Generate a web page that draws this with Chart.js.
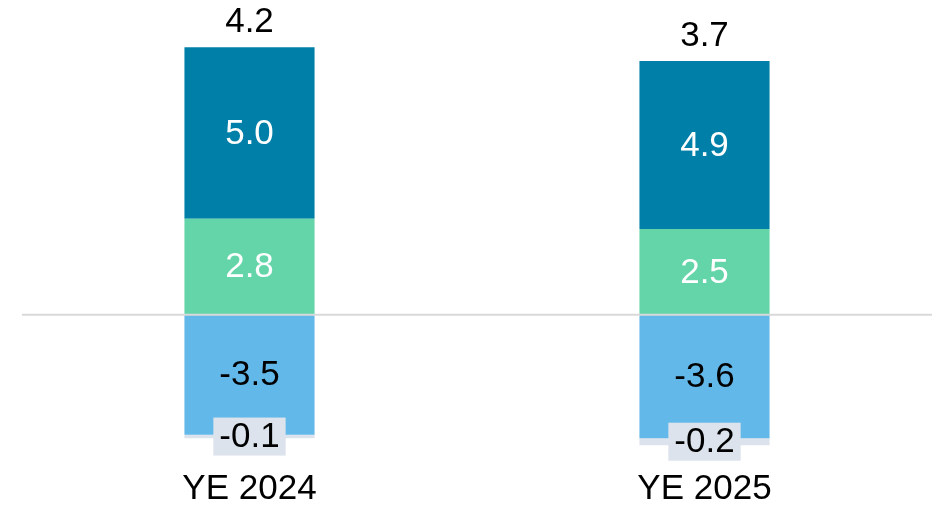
<!DOCTYPE html>
<html><head><meta charset="utf-8">
<script src="https://cdn.jsdelivr.net/npm/chart.js@4/dist/chart.umd.min.js"></script>
<style>html,body{margin:0;padding:0;background:#fff}#wrap{width:942px;height:507px}</style>
</head><body><div id="wrap"><canvas id="c" width="942" height="507"></canvas></div>
<script>
const categories = ["YE 2024", "YE 2025"];
const greenValues = [2.8, 2.5];
const tealValues = [5.0, 4.9];
const blueValues = [-3.5, -3.6];
const grayValues = [-0.1, -0.2];
const totals = [4.2, 3.7];

const FONT = '"Liberation Sans", Arial, sans-serif';
const FS = 35;

const labelPlugin = {
  id: 'labels',
  afterDatasetsDraw(chart) {
    const ctx = chart.ctx;
    const y = chart.scales.y;
    ctx.save();
    const zy = y.getPixelForValue(0);
    ctx.strokeStyle = '#d9d9d9';
    ctx.lineWidth = 2;
    ctx.beginPath();
    ctx.moveTo(chart.chartArea.left, zy);
    ctx.lineTo(chart.chartArea.right, zy);
    ctx.stroke();
    ctx.font = FS + 'px ' + FONT;
    ctx.textAlign = 'center';
    ctx.textBaseline = 'middle';
    chart.data.datasets.forEach((ds, di) => {
      const meta = chart.getDatasetMeta(di);
      meta.data.forEach((bar, i) => {
        const v = ds.data[i];
        const txt = v.toFixed(1);
        const cy = (bar.y + bar.base) / 2;
        if (ds.labelMode === 'below') {
          const w = ctx.measureText(txt).width + 12;
          const h = 38;
          ctx.fillStyle = ds.backgroundColor;
          ctx.fillRect(bar.x - w / 2, cy - h / 2, w, h);
          ctx.fillStyle = '#000';
          ctx.fillText(txt, bar.x, cy + 1);
        } else {
          ctx.fillStyle = ds.labelColor;
          ctx.fillText(txt, bar.x, cy + 1);
        }
      });
    });
    const topMeta = chart.getDatasetMeta(1);
    topMeta.data.forEach((bar, i) => {
      ctx.fillStyle = '#000';
      ctx.fillText(totals[i].toFixed(1), bar.x, bar.y - 25);
    });
    ctx.restore();
  }
};

new Chart(document.getElementById('c'), {
  type: 'bar',
  data: {
    labels: categories,
    datasets: [
      { data: greenValues, backgroundColor: '#63d5a8', labelColor: '#fff' },
      { data: tealValues, backgroundColor: '#0080a8', labelColor: '#fff' },
      { data: blueValues, backgroundColor: '#62b8e8', labelColor: '#000' },
      { data: grayValues, backgroundColor: '#dce3ec', labelMode: 'below' }
    ]
  },
  options: {
    responsive: false,
    animation: false,
    layout: { padding: { left: 22, right: 10, top: 6, bottom: 0 } },
    plugins: { legend: { display: false }, tooltip: { enabled: false } },
    datasets: { bar: { barPercentage: 1, categoryPercentage: 0.286, borderWidth: 0 } },
    scales: {
      x: {
        stacked: true,
        grid: { display: false, drawTicks: false },
        border: { display: false },
        ticks: { color: '#000', font: { family: FONT, size: FS }, padding: 16 },
        afterFit(s) { s.height = 55; }
      },
      y: {
        stacked: true,
        display: false,
        min: -4, max: 9
      }
    }
  },
  plugins: [labelPlugin]
});
</script>
</body></html>
